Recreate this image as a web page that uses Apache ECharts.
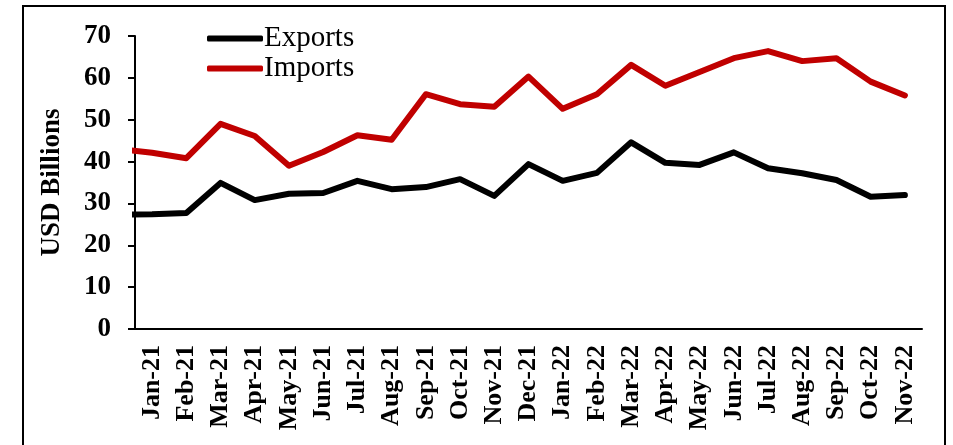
<!DOCTYPE html>
<html>
<head>
<meta charset="utf-8">
<script src="https://cdn.jsdelivr.net/npm/echarts@6/dist/echarts.min.js"></script>
<style>
html, body { margin: 0; padding: 0; background: #fff; }
#chart { width: 953px; height: 445px; }
</style>
</head>
<body>
<div id="chart"></div>
<script>
// monthly trade, USD billions
var months = ['Jan-21', 'Feb-21', 'Mar-21', 'Apr-21', 'May-21', 'Jun-21', 'Jul-21', 'Aug-21',
  'Sep-21', 'Oct-21', 'Nov-21', 'Dec-21', 'Jan-22', 'Feb-22', 'Mar-22', 'Apr-22', 'May-22',
  'Jun-22', 'Jul-22', 'Aug-22', 'Sep-22', 'Oct-22', 'Nov-22'];
// previous month (Dec-20) sits just left of the axis, only its segment shows
var exportsPrev = 27.3;
var importsPrev = 43.0;
var exportsVals = [27.4, 27.7, 34.9, 30.8, 32.3, 32.5, 35.4, 33.4, 33.9, 35.8, 31.8, 39.4,
  35.4, 37.3, 44.6, 39.7, 39.2, 42.2, 38.4, 37.2, 35.6, 31.6, 32.0];
var importsVals = [42.1, 40.8, 49.0, 46.1, 39.0, 42.3, 46.3, 45.2, 56.1, 53.7, 53.1, 60.3,
  52.6, 56.1, 63.1, 58.1, 61.4, 64.7, 66.4, 64.0, 64.7, 59.1, 55.8];

function toPoints(prev, vals) {
  var pts = [[-1, prev]];
  for (var i = 0; i < vals.length; i++) pts.push([i, vals[i]]);
  return pts;
}

var font = 'Liberation Serif';
var chart = echarts.init(document.getElementById('chart'));

chart.setOption({
  animation: false,
  backgroundColor: '#fff',
  grid: { left: 135, top: 36, right: 31, bottom: 116 },
  legend: {
    orient: 'vertical',
    left: 202,
    top: 19,
    itemWidth: 56,
    itemHeight: 6,
    itemGap: 1,
    icon: 'roundRect',
    textStyle: { fontFamily: font, fontSize: 29, color: '#000', padding: [0, 0, 0, -4] },
    data: ['Exports', 'Imports']
  },
  graphic: [{
    type: 'rect',
    shape: { x: 23, y: 6, width: 922, height: 470 },
    style: { fill: 'none', stroke: '#000', lineWidth: 2 },
    silent: true
  }],
  xAxis: [{
    type: 'category',
    data: months,
    boundaryGap: true,
    axisLine: { onZero: false, lineStyle: { color: '#000', width: 2 } },
    axisTick: { length: 7, lineStyle: { color: '#000', width: 2 } },
    axisLabel: {
      rotate: 90, margin: 16, color: '#000', fontFamily: font,
      fontSize: 26, fontWeight: 'bold', interval: 0
    },
    splitLine: { show: false }
  }, {
    type: 'value',
    min: -0.5,
    max: 22.5,
    show: false
  }],
  yAxis: {
    type: 'value',
    min: 0,
    max: 70,
    interval: 10,
    name: 'USD Billions',
    nameLocation: 'middle',
    nameGap: 69,
    nameTextStyle: { fontFamily: font, fontSize: 27, fontWeight: 'bold', color: '#000' },
    axisLine: { show: true, onZero: false, lineStyle: { color: '#000', width: 2 } },
    axisTick: { show: true, length: 7, lineStyle: { color: '#000', width: 2 } },
    axisLabel: { margin: 24, color: '#000', fontFamily: font, fontSize: 27, fontWeight: 'bold' },
    splitLine: { show: false }
  },
  series: [{
    name: 'Exports',
    type: 'line',
    xAxisIndex: 1,
    data: toPoints(exportsPrev, exportsVals),
    showSymbol: false,
    clip: true,
    color: '#000',
    lineStyle: { color: '#000', width: 6, cap: 'round', join: 'round' }
  }, {
    name: 'Imports',
    type: 'line',
    xAxisIndex: 1,
    data: toPoints(importsPrev, importsVals),
    showSymbol: false,
    clip: true,
    color: '#C00000',
    lineStyle: { color: '#C00000', width: 6, cap: 'round', join: 'round' }
  }]
});
</script>
</body>
</html>
